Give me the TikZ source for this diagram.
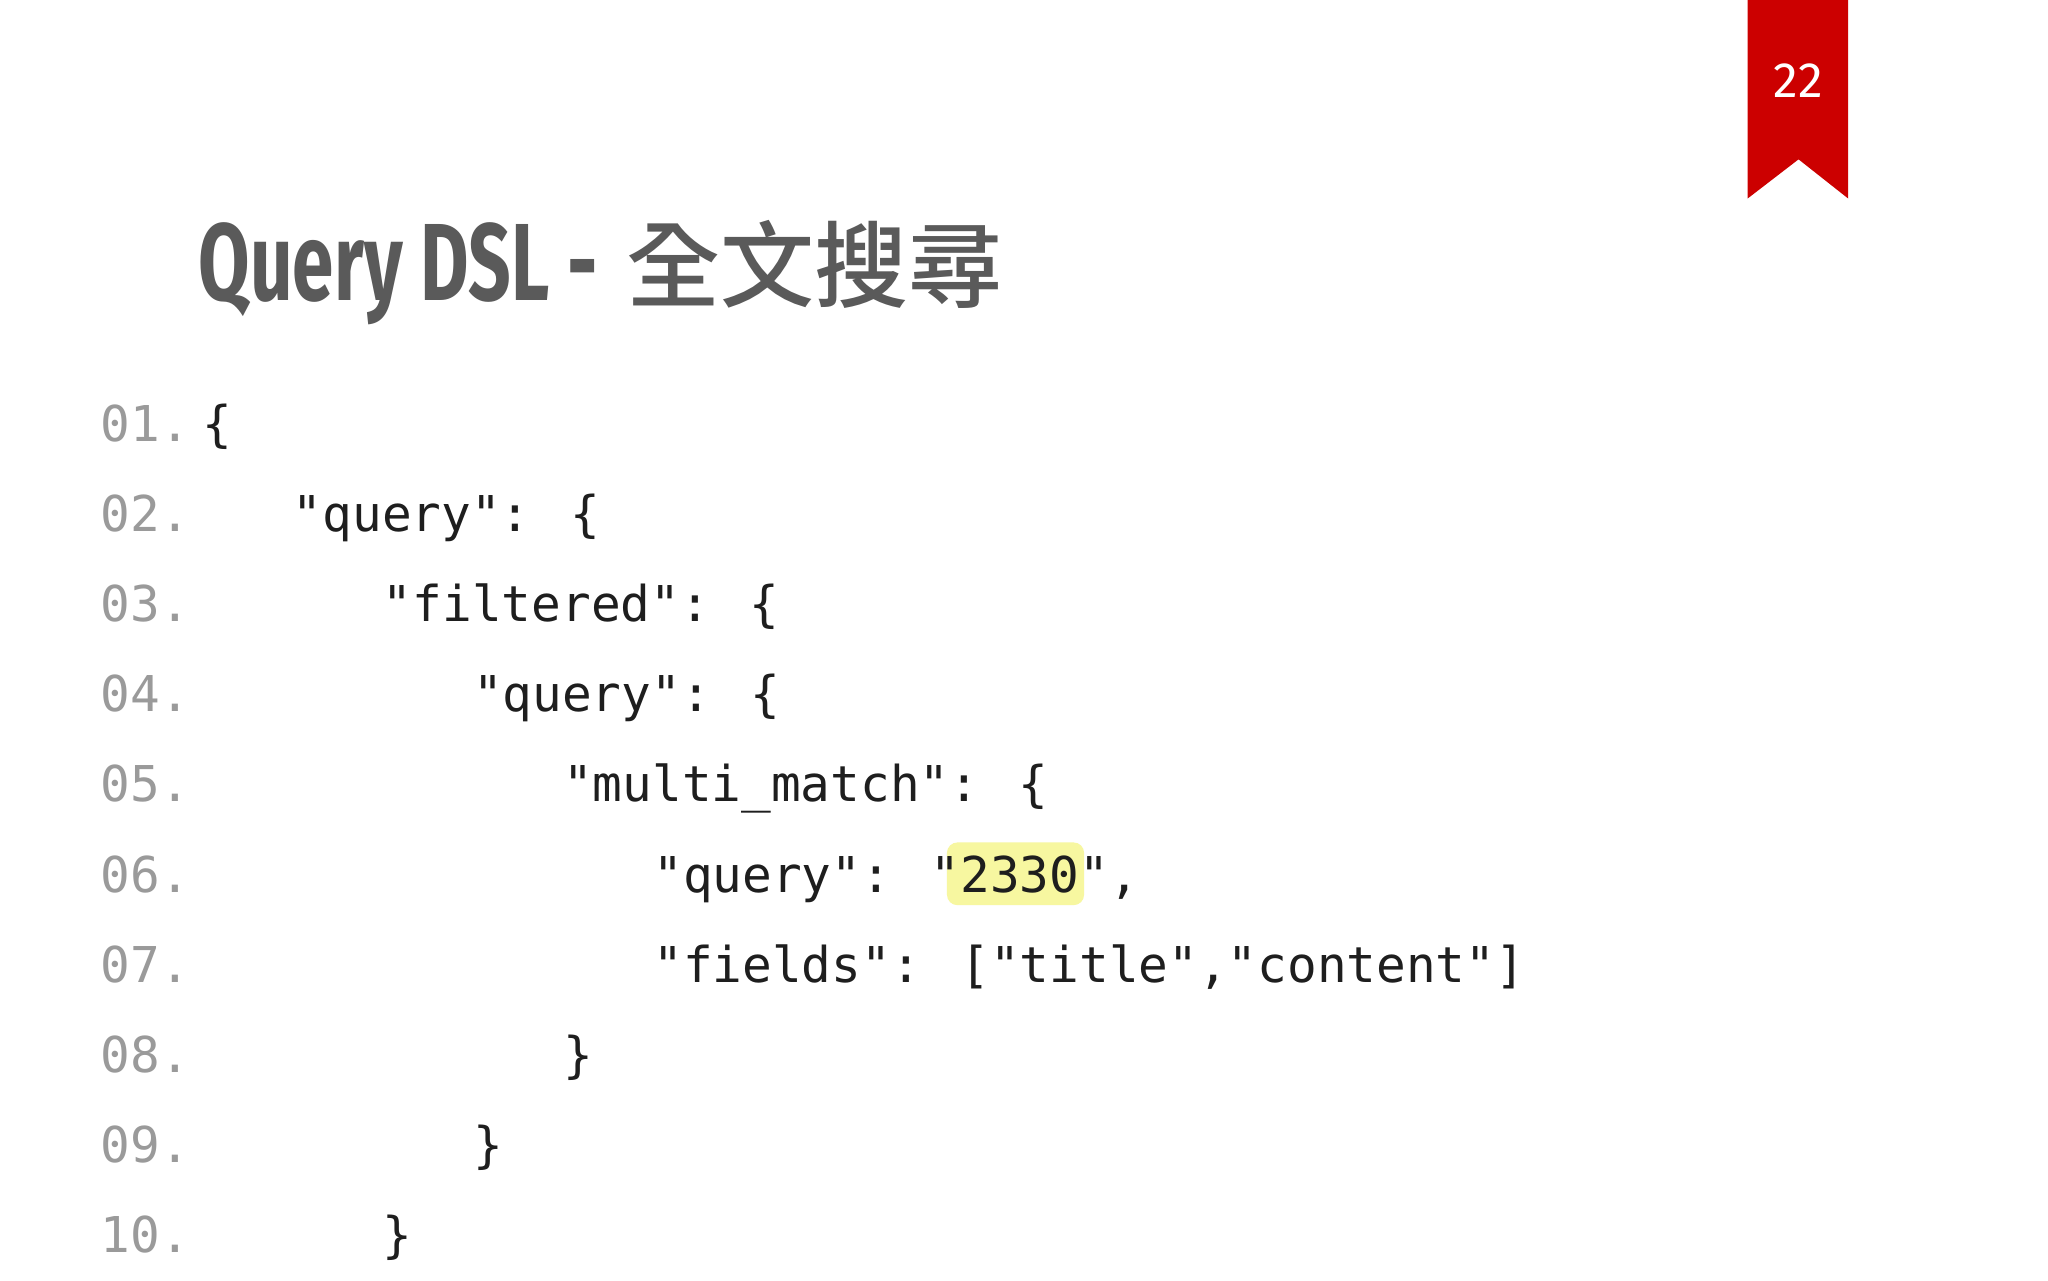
\documentclass[tikz,border=0pt]{standalone}
\usepackage{fontspec}
\newfontfamily\monof{DejaVu Sans Mono}
\newfontfamily\titlef{Fira Sans}[UprightFont=* Bold]
\newfontfamily\cjk{Noto Sans CJK TC}[UprightFont=* Medium]
\newfontfamily\numf{Fira Sans}
\definecolor{ribbon}{HTML}{CC0000}
\definecolor{titlegray}{HTML}{5A5A5A}
\definecolor{numgray}{HTML}{9A9A9A}
\definecolor{codeblack}{HTML}{1E1E1E}
\definecolor{hl}{HTML}{F7F7A0}
\begin{document}
\begin{tikzpicture}[x=1pt,y=-1pt,
  lnum/.style={anchor=base west,inner sep=0,text=numgray,font=\monof\fontsize{37.8}{38}\selectfont},
  code/.style={anchor=base west,inner sep=0,text=codeblack,font=\monof\fontsize{37.8}{38}\selectfont}]
\useasboundingbox (0,0) rectangle (1568,980);
\fill[white] (0,0) rectangle (1568,980);
\fill[ribbon] (1338,0) -- (1415,0) -- (1415,152) -- (1377,122) -- (1338,152) -- cycle;
\node[text=white,font=\numf\fontsize{38}{38}\selectfont] (pg) at (1377,62) {22};
\node[anchor=base west,inner sep=0,text=titlegray] (title) at (152,230)
  {\scalebox{0.68}[1]{\titlef\fontsize{84}{84}\selectfont Query DSL -}\hspace{22pt}{\cjk\fontsize{72}{72}\selectfont 全文搜尋}};
\fill[hl,rounded corners=8pt] (725,645) rectangle (830,693);
\foreach \i/\n in {1/01,2/02,3/03,4/04,5/05,6/06,7/07,8/08,9/09,10/10}{
  \node[lnum] (n\i) at (77,{325+69*(\i-1)+13}) {\n.};
}
\node[code] (c1) at (155,338) {\{};
\node[code] (c2) at (224,407) {"query": \{};
\node[code] (c3) at (293,476) {"filtered": \{};
\node[code] (c4) at (362,545) {"query": \{};
\node[code] (c5) at (431,614) {"multi\_match": \{};
\node[code] (c6) at (500,683) {"query": "2330",};
\node[code] (c7) at (500,752) {"fields": ["title","content"]};
\node[code] (c8) at (431,821) {\}};
\node[code] (c9) at (362,890) {\}};
\node[code] (c10) at (293,959) {\}};
\end{tikzpicture}
\end{document}
